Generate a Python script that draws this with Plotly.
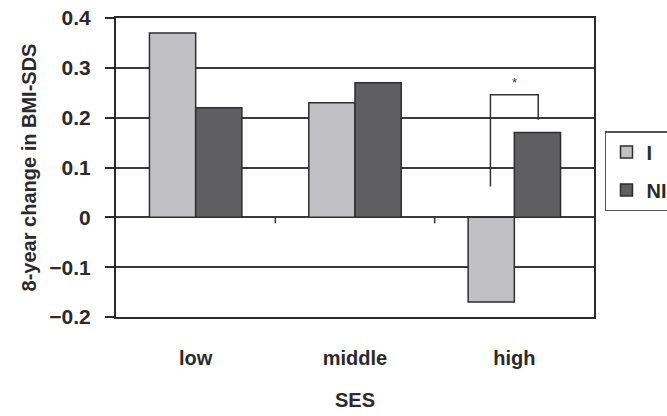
import plotly.graph_objects as go

categories = ["low", "middle", "high"]
series_names = ["I", "NI"]
values_I = [0.37, 0.23, -0.17]
values_NI = [0.22, 0.27, 0.17]
y_tickvals = [-0.2, -0.1, 0, 0.1, 0.2, 0.3, 0.4]
y_ticktext = ["\u22120.2", "\u22120.1", "0", "0.1", "0.2", "0.3", "0.4"]
sig_label = "*"
sig_bracket_y = [0.062, 0.246, 0.196]  # left bottom, top, right bottom

colors = {"I": "#c1c1c5", "NI": "#5f5f61"}
FAM = "Liberation Sans, Arial"
TXT = "#2a2a2a"

fig = go.Figure()
for name, vals in zip(series_names, [values_I, values_NI]):
    fig.add_trace(go.Bar(
        x=categories, y=vals, name=name, legendgroup=name,
        marker=dict(color=colors[name], line=dict(color="#2e2e2e", width=1.5)),
    ))

# significance bracket over "high"
hi = categories.index("high")
xl, xr = hi - 0.15, hi + 0.15
fig.add_shape(type="path", xref="x", yref="y",
              path=f"M {xl},{sig_bracket_y[0]} L {xl},{sig_bracket_y[1]} L {xr},{sig_bracket_y[1]} L {xr},{sig_bracket_y[2]}",
              line=dict(color="#333", width=1.5))
fig.add_annotation(x=hi, y=sig_bracket_y[1], text=sig_label, showarrow=False,
                   yshift=12, font=dict(family=FAM, size=13, color="#333"))

# small tick marks on the zero line between categories
for b in [0.5, 1.5]:
    fig.add_shape(type="line", xref="x", yref="y", x0=b, x1=b, y0=0, y1=-0.012,
                  line=dict(color="#333", width=1.5))

fig.update_layout(
    width=667, height=416,
    margin=dict(l=116, r=73, t=18, b=99, autoexpand=False),
    plot_bgcolor="white", paper_bgcolor="white",
    barmode="group", bargap=0.42, bargroupgap=0,
    font=dict(family=FAM, size=18, color=TXT),
    showlegend=True,
    legend=dict(x=1.023, y=0.622, xanchor="left", yanchor="top",
                bordercolor="#555", borderwidth=1.5,
                font=dict(family=FAM, size=20, color=TXT, weight="bold"),
                itemwidth=30, tracegroupgap=9),
)
fig.update_xaxes(
    type="category", showline=True, mirror=True, linecolor=TXT, linewidth=2,
    ticks="", showgrid=False, ticklabelstandoff=22, automargin=False,
    tickfont=dict(family=FAM, size=20, weight="bold", color=TXT),
    title=dict(text="<b>SES</b>", standoff=25, font=dict(family=FAM, size=20, color=TXT)),
)
fig.update_yaxes(
    range=[-0.2, 0.4], tickvals=y_tickvals, ticktext=y_ticktext, automargin=False,
    showline=True, mirror=True, linecolor=TXT, linewidth=2,
    ticks="outside", ticklen=9, tickcolor=TXT, tickwidth=1.5, ticklabelstandoff=10,
    showgrid=True, gridcolor="#3a3a3a", gridwidth=1.5, zeroline=False,
    tickfont=dict(family=FAM, size=21, weight="bold", color=TXT),
    title=dict(text="<b>8-year change in BMI-SDS</b>", standoff=7,
               font=dict(family=FAM, size=20, color=TXT)),
)

fig.write_html(
    "out.html",
    config={"displayModeBar": False},
    post_script="document.body.style.margin='0';document.body.style.overflow='hidden';document.documentElement.style.overflow='hidden';",
)
